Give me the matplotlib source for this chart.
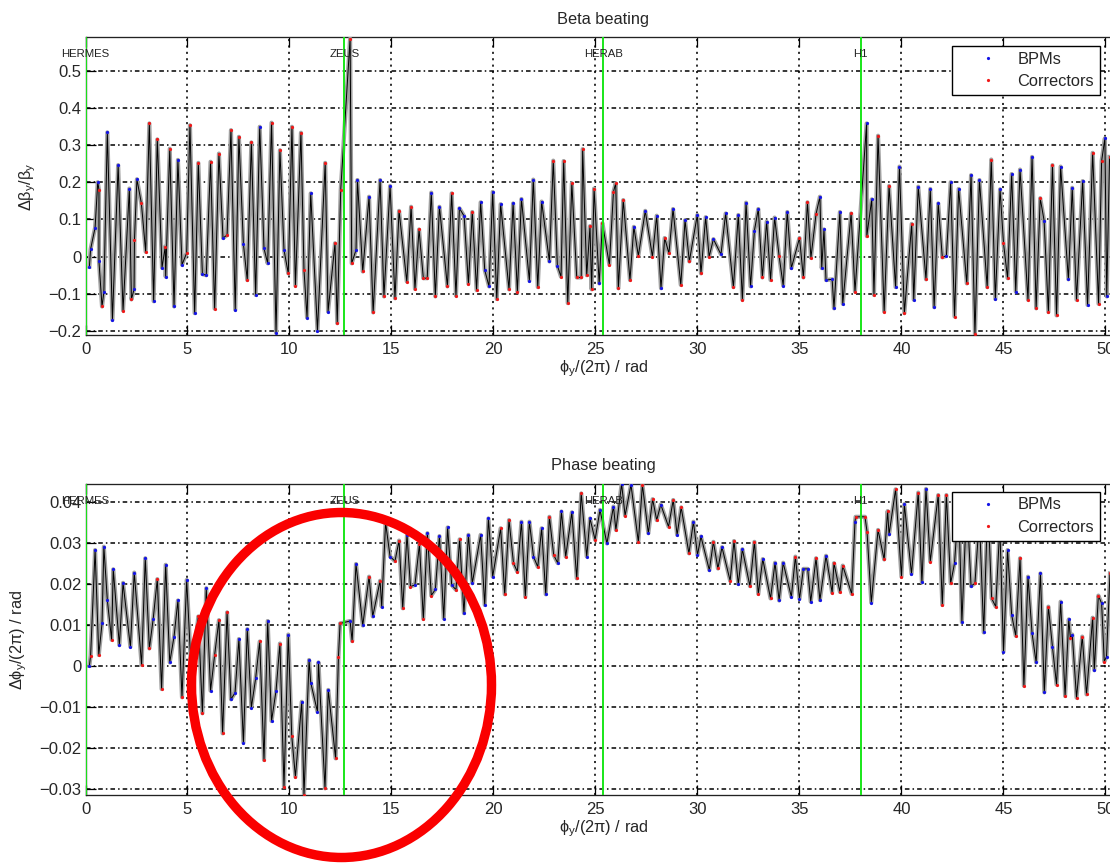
#!/usr/bin/env python3
import numpy as np
import matplotlib
matplotlib.use('Agg')
import matplotlib.pyplot as plt
from matplotlib.patches import Ellipse

plt.rcParams['font.family'] = ['Liberation Sans', 'DejaVu Sans']
plt.rcParams['mathtext.fontset'] = 'custom'
plt.rcParams['mathtext.rm'] = 'Liberation Sans'
plt.rcParams['mathtext.it'] = 'Liberation Sans'

#/// DATA
ip_names = ['HERMES', 'ZEUS', 'HERAB', 'H1']
ip_phi = [0.0, 12.69, 25.38, 38.0]

beta_phi = [.19,.25,.47,.6,.66,.66,.81,.9,1.07,1.32,
    1.6,1.84,2.15,2.25,2.38,2.4,2.52,2.74,2.95,3.13,
    3.34,3.52,3.75,3.91,3.93,4.13,4.34,4.53,4.73,4.96,
    5.12,5.35,5.53,5.73,5.92,6.13,6.33,6.54,6.74,6.94,
    7.13,7.34,7.52,7.74,7.93,8.13,8.34,8.54,8.75,8.93,
    9.12,9.34,9.53,9.73,9.94,10.12,10.29,10.56,10.71,10.86,
    11.04,11.37,11.75,11.89,12.23,12.34,12.51,12.97,13.05,13.26,
    13.33,13.59,13.9,14.1,14.44,14.63,14.93,15.17,15.37,15.75,
    15.96,16.15,16.35,16.56,16.75,16.95,17.15,17.35,17.74,17.95,
    18.16,18.33,18.56,18.77,18.96,19.17,19.37,19.57,19.78,19.96,
    20.16,20.35,20.76,20.96,21.17,21.37,21.76,21.95,22.17,22.36,
    22.74,22.93,23.13,23.31,23.44,23.64,23.84,24.08,24.3,24.37,
    24.57,24.73,24.81,24.93,25.18,25.34,25.68,25.88,25.99,26.12,
    26.36,26.69,26.88,27.1,27.44,27.79,28.0,28.21,28.39,28.6,
    28.8,29.18,29.39,29.6,29.99,30.17,30.4,30.57,30.78,31.15,
    31.38,31.76,32.0,32.2,32.38,32.6,32.79,32.98,33.18,33.39,
    33.58,33.78,34.0,34.2,34.4,34.6,35.0,35.19,35.39,35.56,
    35.81,36.0,36.09,36.2,36.3,36.6,36.69,36.98,37.12,37.53,
    37.72,38.29,38.3,38.54,38.65,38.85,39.15,39.39,39.71,39.9,
    40.14,40.5,40.6,40.82,41.2,41.41,41.6,41.8,42.0,42.2,
    42.41,42.6,42.8,43.2,43.41,43.6,43.82,44.2,44.4,44.6,
    44.83,45.0,45.2,45.4,45.6,45.81,46.2,46.4,46.6,46.8,
    46.99,47.2,47.4,47.6,47.8,48.18,48.37,48.58,48.88,49.12,
    49.37,49.66,49.81,49.97,50.06,50.2]
beta_val = [-.027,.02,.078,.2,.18,-.013,-.134,-.095,.334,-.17,
    .246,-.145,.183,-.115,-.088,.045,.208,.143,.013,.358,
    -.12,.315,-.03,.027,-.054,.29,-.134,.26,-.022,.01,
    .353,-.152,.252,-.047,-.05,.255,-.14,.277,.05,.058,
    .34,-.143,.322,.034,-.063,.307,-.103,.349,.022,-.018,
    .36,-.205,.286,.018,-.045,.349,-.078,.333,-.036,-.164,
    .17,-.199,.252,-.148,.036,-.179,.179,.586,-.018,.018,
    .206,-.04,.161,-.15,.206,-.107,.19,-.112,.123,-.067,
    .134,-.087,.073,-.058,-.058,.172,-.107,.134,-.08,.17,
    -.105,.13,.109,-.073,.12,-.09,.146,-.036,-.08,.174,
    -.114,.141,-.088,.143,-.094,.155,-.065,.207,-.082,.148,
    -.013,.258,-.024,-.054,.257,-.125,.197,-.056,-.056,.289,
    -.05,.082,-.088,.183,-.072,.09,-.022,.174,.197,-.085,
    .152,-.063,.08,.002,.123,0,.11,-.085,.05,.009,
    .128,-.076,.098,-.013,.112,-.045,.106,0,.047,.006,
    .116,-.082,.112,-.116,.145,-.08,.07,.128,-.056,.094,
    -.063,.105,.002,-.078,.12,-.031,.05,-.056,.146,-.003,
    .114,.161,-.031,.073,-.063,-.061,-.139,.12,-.127,.116,
    -.094,.358,.055,.154,-.103,.325,-.148,.19,-.082,.242,
    -.152,.088,-.116,.188,-.061,.182,-.136,.143,-.002,.002,
    .2,-.161,.182,-.072,.219,-.208,.206,-.082,.261,-.114,
    .181,.036,-.058,.222,-.094,.234,-.116,.268,-.139,.157,
    .097,-.149,.246,-.158,.242,-.061,.185,-.116,.203,-.13,
    .279,-.127,.257,.318,-.107,.268]
beta_kind = ('bbbbrbrbbb' 'brbrbrbrrr' 'brbrbrbbbr' 'rbrbbrrrbr' 'rbrbrrbbbb' 'rbrbrrrrrb'
    'bbrbrrrrrb' 'brbrbrbrrr' 'rrrrrbrbrr' 'rbbrrrbbbb' 'rbrbrbbbrb' 'brbrrrrrrr'
    'rrrrbrrrrr' 'rrbrbrbbrr' 'brbrbrbrbb' 'brbrbbbbrb' 'rbrbbbrrrr' 'rbbbbbbbbr'
    'rbrbrrrrbb' 'rrbbrbbbrb' 'brbrbrbrrb' 'brrbbbrbrr' 'brrrbbbrbb' 'rrrbbr')

phase_phi = [.19,.25,.47,.65,.81,.9,1.07,1.28,1.36,1.66,
    1.84,2.2,2.39,2.75,2.93,3.13,3.32,3.52,3.73,3.93,
    4.13,4.34,4.53,4.73,4.96,5.2,5.53,5.73,5.92,6.13,6.33,
    6.54,6.72,6.94,7.13,7.33,7.52,7.74,7.93,8.13,8.34,
    8.54,8.75,8.93,9.12,9.34,9.53,9.73,9.94,10.11,10.29,
    10.6,10.71,10.96,11.04,11.37,11.42,11.74,11.9,12.26,12.4,
    12.48,12.97,13.07,13.26,13.59,13.9,14.08,14.44,14.52,14.71,
    14.93,15.17,15.37,15.55,15.76,15.93,16.15,16.37,16.56,16.76,
    16.95,17.15,17.35,17.56,17.75,17.95,18.16,18.34,18.55,18.77,
    18.96,19.37,19.57,19.75,19.96,20.35,20.55,20.76,20.98,21.17,
    21.37,21.56,21.76,21.96,22.17,22.36,22.56,22.74,22.95,23.15,
    23.33,23.54,23.84,24.08,24.3,24.57,24.73,24.98,25.22,25.56,
    25.88,26.0,26.28,26.45,26.74,27.1,27.3,27.59,27.8,28.0,
    28.2,28.58,28.81,29.0,29.2,29.58,29.8,30.0,30.17,30.58,
    30.78,31.0,31.2,31.6,31.79,32.0,32.2,32.57,32.79,32.98,
    33.2,33.58,33.8,34.0,34.2,34.6,34.8,35.0,35.19,35.4,
    35.55,35.81,36.0,36.3,36.6,36.69,36.98,37.12,37.56,37.72,
    37.75,38.21,38.31,38.52,38.85,39.15,39.32,39.39,39.71,40.0,
    40.14,40.49,40.82,41.0,41.2,41.41,41.8,42.0,42.2,42.41,
    42.6,42.8,42.96,43.2,43.41,43.6,43.82,44.03,44.23,44.42,
    44.62,44.82,45.0,45.2,45.4,45.6,45.81,46.0,46.2,46.4,
    46.6,46.81,47.0,47.2,47.4,47.6,47.8,48.02,48.2,48.28,
    48.37,48.58,48.86,49.07,49.37,49.45,49.65,49.81,49.94,50.05,50.22]
phase_val = [0,.0024,.0282,.0026,.0103,.029,.016,.0063,.0235,.005,
    .0202,.0046,.0227,.0002,.0262,.0042,.0115,.0211,-.0057,.0246,
    .0008,.0071,.0159,-.0077,.0209,-.003,.012,-.0116,.0189,-.0061,.0026,
    .0111,-.0165,.013,-.0082,-.0066,.0065,-.0188,.0089,-.0102,-.0031,
    .0059,-.023,.0109,-.0135,-.0061,.0054,-.0295,.0076,-.0171,-.0271,
    -.0088,-.0315,.0014,-.0041,-.0112,.0008,-.0299,-.0059,-.0226,.0022,
    .0103,.0109,.006,.0248,.0098,.0217,.012,.0207,.0144,.0349,
    .0266,.0255,.0305,.014,.0319,.0193,.0197,.0296,.0114,.0323,
    .0171,.0186,.0316,.0115,.0337,.0197,.0185,.0308,.0128,.0319,
    .0201,.0319,.0148,.0359,.0217,.0335,.0174,.0355,.025,.0229,
    .0351,.0168,.0351,.0266,.0241,.0335,.0174,.0363,.027,.025,
    .0376,.0266,.0374,.0213,.042,.0266,.0359,.0307,.038,.0298,
    .0388,.0331,.0443,.0366,.0441,.0302,.0441,.0323,.0406,.0355,
    .0393,.0339,.0404,.0319,.0386,.0274,.0351,.027,.0315,.0233,
    .0302,.0237,.0289,.0207,.0304,.0199,.0284,.0194,.0302,.0175,
    .026,.0164,.0251,.0159,.0251,.0168,.0266,.0163,.0236,.0236,
    .0156,.0262,.016,.0268,.0178,.025,.018,.0244,.0175,.0351,
    .0363,.0363,.0327,.0154,.0331,.0259,.0377,.032,.043,.0217,
    .0394,.0224,.0422,.0203,.0431,.0254,.0416,.0148,.0416,.0201,
    .025,.04,.0106,.04,.0194,.0201,.036,.0081,.04,.0164,
    .0144,.034,.0034,.0282,.0124,.0073,.0262,-.0049,.0217,.0079,
    .0008,.0225,-.0065,.0144,.0046,-.0046,.0156,-.0074,.0113,.0067,
    .0076,-.0078,.0071,-.007,.0117,-.0011,.0171,.0152,.001,.0022,.0225]
phase_kind = ('brbrbbbrbb' 'bbbrbrbrrb' 'bbbrbbrrbbr' 'rrrbbbbbbb' 'rrbbbrrbrr' 'brbbbbrbrr'
    'rbrbbrbrbb' 'brrrbrbrrb' 'rbbbbbrrbb' 'bbbbbrrrrr' 'brbbrbbrrb' 'brbrrbbrbb'
    'brbrbrrbrr' 'brrbrrbbbb' 'rrbrrbbrrr' 'brbbbbrbbb' 'brbbrrrrrb' 'rrrbrrrbrr'
    'bbrbbrrrrr' 'bbbrbrbbrr' 'rrbbbrrrbb' 'bbbrbrbrbr' 'brrrrbrbrbr')

beta_ticks = [-0.2, -0.1, 0, 0.1, 0.2, 0.3, 0.4, 0.5]
phase_ticks = [-0.03, -0.02, -0.01, 0, 0.01, 0.02, 0.03, 0.04]
phi_ticks = [0, 5, 10, 15, 20, 25, 30, 35, 40, 45, 50]

TXT = '#262626'
W, H = 1110.0, 864.0
fig = plt.figure(figsize=(W/100, H/100), dpi=100, facecolor='white')

def fmt(v):
    if v == 0:
        return '0'
    return ('\u2212' if v < 0 else '') + ('%g' % abs(v))

def panel(px, phi, val, kind, ticks, ylim, title, ylabel, label_x, name_y, legend_top):
    # px = left, top, right, bottom in image pixels (the right edge runs off the page)
    l, t, r, b = px
    ax = fig.add_axes([l/W, 1-b/H, (r-l)/W, (b-t)/H])
    phi, val = np.array(phi), np.array(val)
    isb = np.array([k == 'b' for k in kind])
    ax.plot(phi, val, color='#a0a0a0', lw=3.0, zorder=3)
    ax.plot(phi, val, color='black', lw=0.7, zorder=4)
    ax.plot(phi[isb], val[isb], '.', color='#1414e6', ms=4.6, mew=0, zorder=5, label='BPMs')
    ax.plot(phi[~isb], val[~isb], '.', color='#f01818', ms=4.6, mew=0, zorder=5, label='Correctors')
    for name, p in zip(ip_names, ip_phi):
        ax.axvline(p, color='#19e619', lw=1.4, zorder=6)
        ax.text(p, name_y, name, ha='center', va='center', fontsize=8.2, color='#222222', zorder=7)
    ax.set_xlim(0, 50.76)
    ax.set_ylim(*ylim)
    ax.set_xticks(phi_ticks)
    ax.set_yticks(ticks)
    ax.set_yticklabels([fmt(v) for v in ticks])
    ax.tick_params(direction='in', length=7.5, width=0.9, top=True, right=True, colors=TXT,
                   labelsize=12, color='black')
    ax.tick_params(axis='x', pad=5)
    ax.tick_params(axis='y', pad=3)
    ax.grid(axis='y', color='black', lw=1.1, ls=(0, (3.0, 2.0, 1, 2.0)), zorder=1)
    ax.grid(axis='x', color='black', lw=1.15, ls=(0, (1.3, 2.7)), zorder=1)
    ax.set_axisbelow(True)
    for s in ax.spines.values():
        s.set_linewidth(0.95)
        s.set_color('#222222')
    ax.set_title(title, fontsize=11.8, color=TXT, pad=10)
    ax.set_xlabel(r'$\mathrm{\phi_y/(2\pi)\ /\ rad}$', fontsize=11.8, color=TXT, labelpad=1)
    ax.set_ylabel(ylabel, fontsize=11.8, color=TXT)
    ax.yaxis.set_label_coords((label_x-l)/(r-l), 0.5)
    leg = ax.legend(loc='upper left', bbox_to_anchor=(952/W, 1-legend_top/H), bbox_transform=fig.transFigure,
                    fontsize=11.8, fancybox=False, framealpha=1, edgecolor='black', borderaxespad=0,
                    borderpad=0.35, labelspacing=0.45, handlelength=3.65, handletextpad=0.0, markerscale=1.0)
    leg.get_frame().set_linewidth(1.0)
    leg.set_zorder(10)
    for txt in leg.get_texts():
        txt.set_color(TXT)
    return ax

panel((85.5, 37.5, 1121, 335), beta_phi, beta_val, beta_kind, beta_ticks, (-0.2107, 0.589),
      'Beta beating', r'$\mathrm{\Delta\beta_y/\beta_y}$', 38, 0.5456, 46)
panel((85.5, 484, 1121, 795.3), phase_phi, phase_val, phase_kind, phase_ticks, (-0.0316, 0.0443),
      'Phase beating', r'$\mathrm{\Delta\phi_y/(2\pi)\ /\ rad}$', 29, 0.0402, 491.7)

# the hand drawn red circle over the lower panel
fig.add_artist(Ellipse((341.5/W, 1-685/H), 300/W, 345/H, transform=fig.transFigure, fill=False,
                       edgecolor='#fa0000', lw=6.8, zorder=20))

fig.savefig('out.png', dpi=100)
